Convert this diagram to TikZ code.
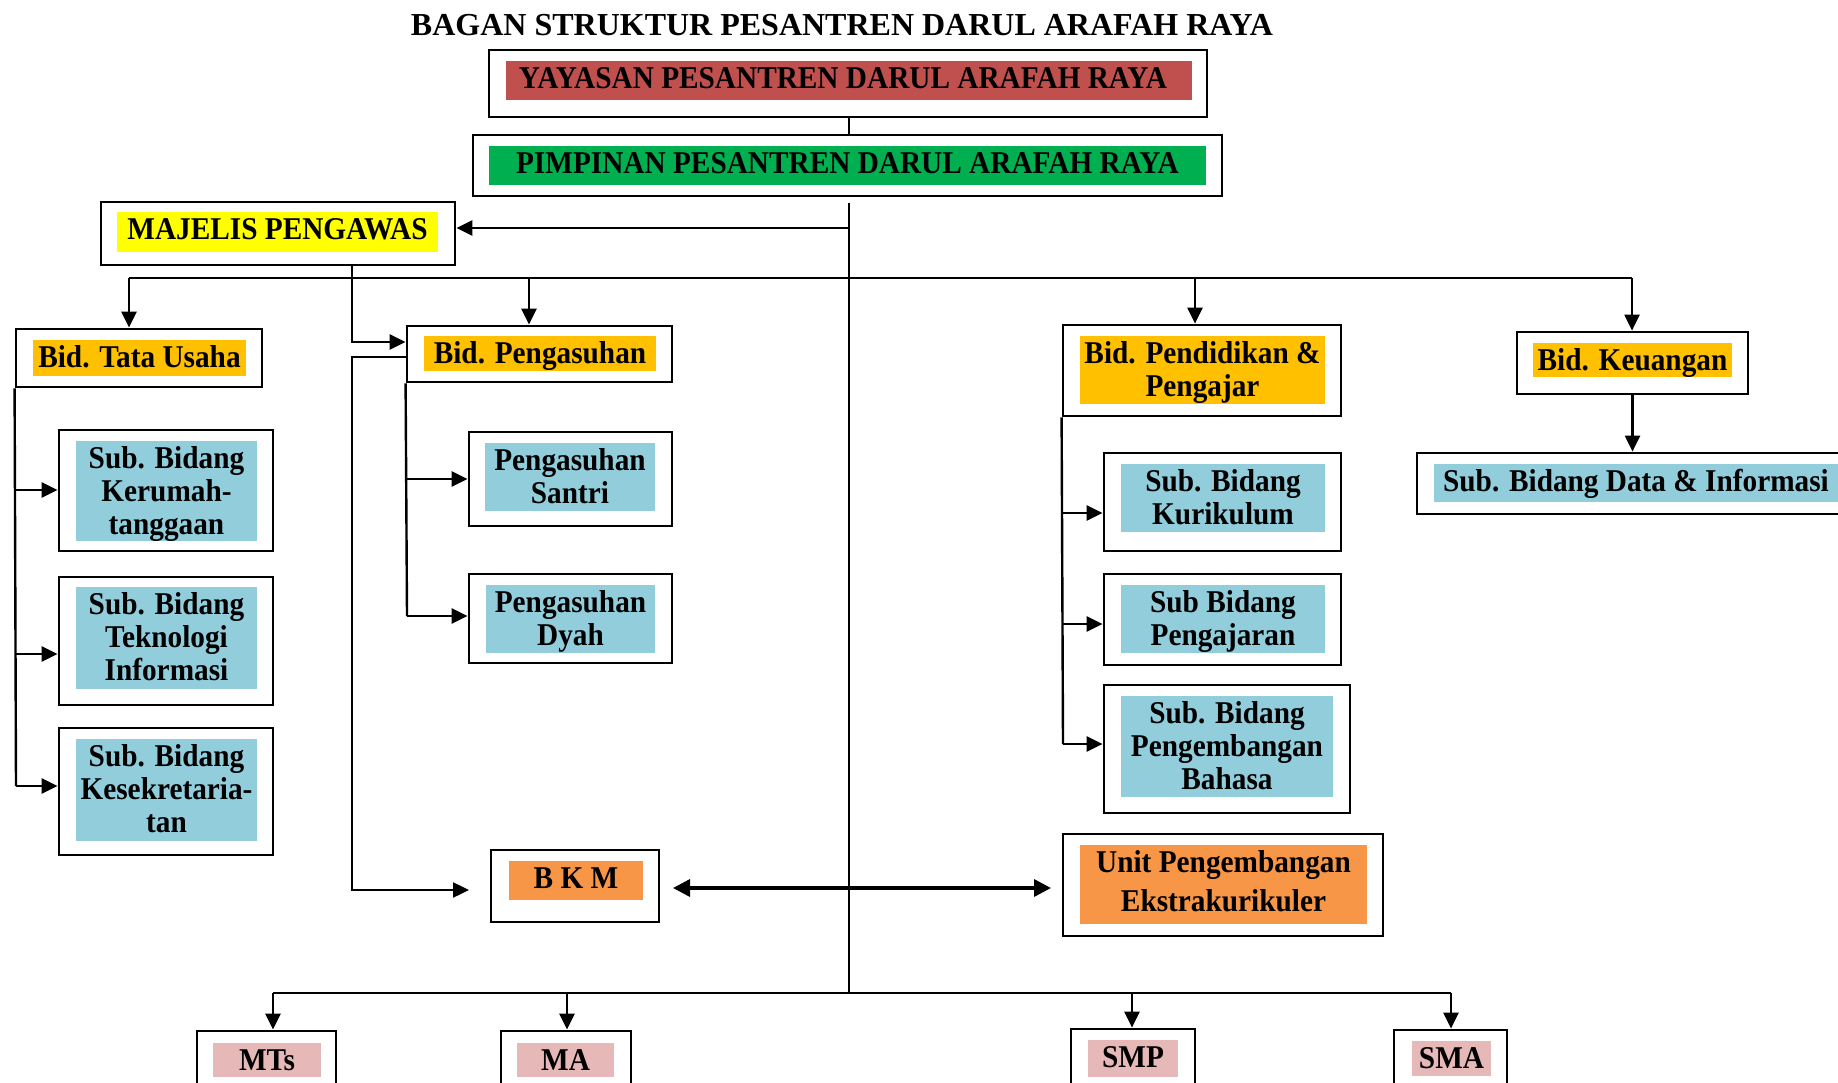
\documentclass[tikz,border=0pt]{standalone}
\usepackage{fontspec}
\setmainfont{Liberation Serif}
\newfontfamily\bodyfont[FakeStretch=0.924]{Liberation Serif}
\usetikzlibrary{fit,arrows.meta}
\definecolor{cred}{HTML}{C0504D}
\definecolor{cgreen}{HTML}{00B050}
\definecolor{cyellow}{HTML}{FFFF00}
\definecolor{cgold}{HTML}{FFC000}
\definecolor{cblue}{HTML}{92CDDC}
\definecolor{corange}{HTML}{F79646}
\definecolor{cpink}{HTML}{E6B9B8}
\newcommand\fl{\rule{0pt}{24pt}}
% [#1 text options] #2 name, #3 outer corners, #4 inner corners, #5 fill colour, #6 text
\newcommand\orgbox[6][]{%
  \node[obox, fit={#3}] (#2) {};
  \node[ibox, fill=#5, fit={#4}] (#2-in) {};
  \node[txt, #1] (#2-t) at ([yshift=-3.7pt]#2-in.north) {\fl #6};
}
\begin{document}
\begin{tikzpicture}[x=1pt,y=-1pt,
  obox/.style={draw, line width=2.8pt, fill=white, inner sep=0pt},
  ibox/.style={draw=none, inner sep=0pt},
  txt/.style={anchor=north, inner sep=0pt, align=center,
    font=\bodyfont\bfseries\fontsize{31.7pt}{33pt}\selectfont},
  conn/.style={line width=2.4pt},
  arr/.style={line width=2.4pt, -{Triangle[length=16pt,width=15pt]}},
  darr/.style={line width=3.4pt, {Triangle[length=17pt,width=17pt]}-{Triangle[length=17pt,width=17pt]}}]
\path[use as bounding box, fill=white] (0,0) rectangle (1838,1083);
\clip (0,0) rectangle (1838,1083);

\node[anchor=base, inner sep=0pt, font=\bfseries\fontsize{32pt}{36pt}\selectfont] (title) at (842,36)
  {BAGAN STRUKTUR PESANTREN DARUL ARAFAH RAYA};

\orgbox[xshift=-6pt]{yay}{(489,50) (1207,117)}{(506,61) (1192,100)}{cred}{YAYASAN PESANTREN DARUL ARAFAH RAYA}
\orgbox{pim}{(473,135) (1222,196)}{(489,146) (1206,185)}{cgreen}{PIMPINAN PESANTREN DARUL ARAFAH RAYA}
\orgbox{maj}{(101,202) (455,265)}{(117,212) (438,252)}{cyellow}{MAJELIS PENGAWAS}
\orgbox{tu}{(16,329) (262,387)}{(33,340) (246,376)}{cgold}{Bid. Tata Usaha}
\orgbox{pg}{(407,326) (672,382)}{(424,336) (656,371)}{cgold}{Bid. Pengasuhan}
\orgbox{pd}{(1063,325) (1341,416)}{(1080,336) (1325,404)}{cgold}{Bid. Pendidikan \&\\Pengajar}
\orgbox{ku}{(1517,332) (1748,394)}{(1533,343) (1732,377)}{cgold}{Bid. Keuangan}
\orgbox[xshift=-4pt]{sd}{(1417,453) (1850,514)}{(1434,464) (1846,502)}{cblue}{Sub. Bidang Data \& Informasi}
\orgbox{kr}{(59,430) (273,551)}{(76,441) (257,541)}{cblue}{Sub. Bidang\\Kerumah-\\tanggaan}
\orgbox{tek}{(59,577) (273,705)}{(76,587) (257,689)}{cblue}{Sub. Bidang\\Teknologi\\Informasi}
\orgbox{kes}{(59,728) (273,855)}{(76,739) (257,841)}{cblue}{Sub. Bidang\\Kesekretaria-\\tan}
\orgbox{san}{(469,432) (672,526)}{(485,443) (655,511)}{cblue}{Pengasuhan\\Santri}
\orgbox{dy}{(469,574) (672,663)}{(486,585) (655,653)}{cblue}{Pengasuhan\\Dyah}
\orgbox{kur}{(1104,453) (1341,551)}{(1121,464) (1325,532)}{cblue}{Sub. Bidang\\Kurikulum}
\orgbox{pjr}{(1104,574) (1341,665)}{(1121,585) (1325,653)}{cblue}{Sub Bidang\\Pengajaran}
\orgbox{bhs}{(1104,685) (1350,813)}{(1121,696) (1333,797)}{cblue}{Sub. Bidang\\Pengembangan\\Bahasa}
\orgbox{bkm}{(491,850) (659,922)}{(509,861) (643,900)}{corange}{B K M}
\orgbox{unit}{(1063,834) (1383,936)}{(1080,845) (1367,924)}{corange}{Unit Pengembangan\\[6pt]Ekstrakurikuler}
\orgbox{mts}{(197,1031) (336,1098)}{(213,1043) (321,1077)}{cpink}{MTs}
\orgbox{ma}{(501,1031) (631,1098)}{(517,1043) (614,1077)}{cpink}{MA}
\orgbox{smp}{(1071,1029) (1195,1098)}{(1088,1040) (1178,1077)}{cpink}{SMP}
\orgbox{sma}{(1394,1030) (1507,1098)}{(1412,1041) (1491,1076)}{cpink}{SMA}

% coordinates
\coordinate (top) at (849,203);
\coordinate (mj) at (849,228);
\coordinate (d1) at (129,278);
\coordinate (d2) at (529,278);
\coordinate (d3) at (1195,278);
\coordinate (d4) at (1632,278);
\coordinate (b1) at (273,993);
\coordinate (b2) at (567,993);
\coordinate (b3) at (1132,993);
\coordinate (b4) at (1451,993);
\coordinate (t1) at (16,490);
\coordinate (t2) at (16,654);
\coordinate (t3) at (16,786);
\coordinate (p1) at (407,479);
\coordinate (p2) at (407,616);
\coordinate (e1) at (1063,513);
\coordinate (e2) at (1063,624);
\coordinate (e3) at (1063,744);
\coordinate (m1) at (352,342);
\coordinate (m2) at (352,357);
\coordinate (m3) at (352,890);
\coordinate (bk) at (469,890);
\coordinate (da1) at (673,888);
\coordinate (da2) at (1051,888);

% spine
\draw[conn] (yay.south -| top) -- (pim.north -| top);
\draw[conn] (top) -- (top |- b1);
\draw[arr] (mj) -- (mj -| maj.east);

% upper distribution
\draw[conn] (d1) -- (d4);
\draw[arr] (d1) -- (d1 |- tu.north);
\draw[arr] (d2) -- (d2 |- pg.north);
\draw[arr] (d3) -- (d3 |- pd.north);
\draw[arr] (d4) -- (d4 |- ku.north);

% Tata Usaha
\draw[conn] (tu.south west) -- (t3);
\draw[arr] (t1) -- (t1 -| kr.west);
\draw[arr] (t2) -- (t2 -| tek.west);
\draw[arr] (t3) -- (t3 -| kes.west);

% Majelis / Pengasuhan / BKM
\draw[arr] (maj.south -| m1) -- (m1) -- (m1 -| pg.west);
\draw[arr] (m2 -| pg.west) -- (m2) -- (m3) -- (bk);
\draw[conn] (pg.south west) -- (p2);
\draw[arr] (p1) -- (p1 -| san.west);
\draw[arr] (p2) -- (p2 -| dy.west);

% Pendidikan
\draw[conn] (pd.south west) -- (e3);
\draw[arr] (e1) -- (e1 -| kur.west);
\draw[arr] (e2) -- (e2 -| pjr.west);
\draw[arr] (e3) -- (e3 -| bhs.west);

% Keuangan
\draw[arr] (ku.south) -- (ku.south |- sd.north);

% BKM <-> Unit
\draw[darr] (da1) -- (da2);

% lower distribution
\draw[conn] (b1) -- (b4);
\draw[arr] (b1) -- (b1 |- mts.north);
\draw[arr] (b2) -- (b2 |- ma.north);
\draw[arr] (b3) -- (b3 |- smp.north);
\draw[arr] (b4) -- (b4 |- sma.north);
\end{tikzpicture}
\end{document}
